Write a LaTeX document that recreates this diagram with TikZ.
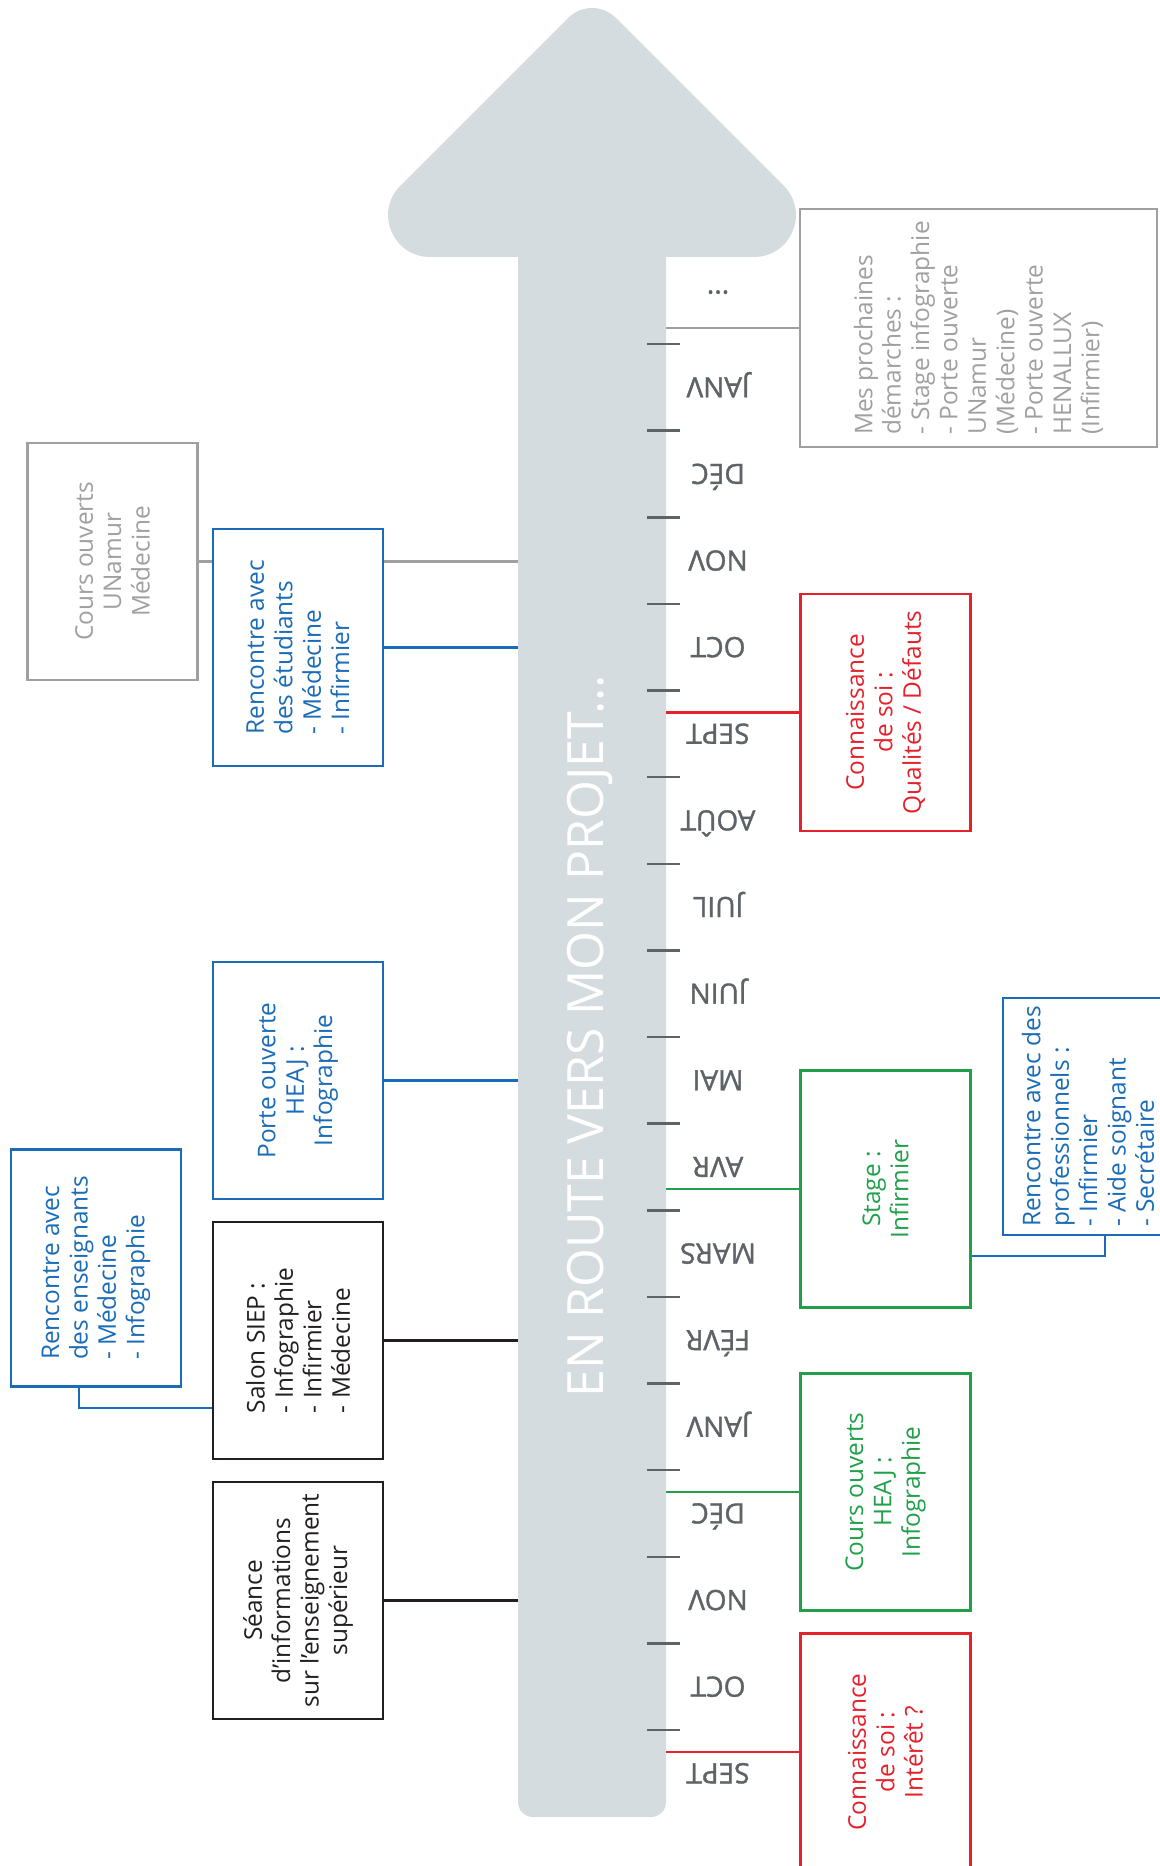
\documentclass[tikz,border=0pt]{standalone}
\usepackage{fontspec}
\setmainfont{Open Sans}
\usepackage{xcolor}
\definecolor{shaft}{HTML}{D5DCE0}
\definecolor{cgray}{HTML}{A0A0A0}
\definecolor{cblue}{HTML}{1A6CB8}
\definecolor{cred}{HTML}{E5222B}
\definecolor{cgreen}{HTML}{21A04A}
\definecolor{cblack}{HTML}{231F20}
\definecolor{cdark}{HTML}{5E6367}
\tikzset{%
  card/.style={draw=#1,text=#1,fill=white,line width=1.1pt,rotate=90,minimum width=118.5pt,minimum height=85pt,inner sep=1pt,font=\fontsize{12.2}{14.2}\selectfont},
  tie/.style={#1,line width=1.3pt},
  month/.style={text=cdark,rotate=180,text height=10pt,text depth=0pt,inner sep=0pt,font=\fontsize{14}{16}\selectfont\addfontfeatures{FakeBold=1.3}},
  notch/.style={cdark,line width=1.25pt},
}

\begin{document}
\begin{tikzpicture}[x=0.5pt,y=-0.5pt]
  \useasboundingbox (0,0) rectangle (1160,1866);

  \fill[shaft,rounded corners=7.5pt] (518,230) rectangle (666,1817);
  \fill[shaft] (430,257) .. controls (392.7,257) and (374,212) .. (400.4,185.6)
    -- (568,18) .. controls (581.3,4.7) and (602.7,4.7) .. (616,18)
    -- (783.6,185.6) .. controls (810,212) and (791.3,257) .. (754,257) -- cycle;
  \node[rotate=90,text=white,font=\fontsize{25}{30}\selectfont] (title) at (590,1036) {EN ROUTE VERS MON PROJET...};

  \coordinate (L) at (518,0);
  \coordinate (R) at (666,0);

  \foreach \i in {0,...,16}
    \draw[notch] (647,{344+86.625*\i}) -- (680,{344+86.625*\i});
  \node[month] (more) at (718,300.7) {...};
  \foreach \m [count=\i] in {JANV,DÉC,NOV,OCT,SEPT,AOÛT,JUIL,JUIN,MAI,AVR,MARS,FÉVR,JANV,DÉC,NOV,OCT,SEPT}
    \node[month] (m\i) at (718,{344+86.625*(\i-0.5)}) {\m};

  % left side
  \node[card=cgray,align=center] (coursU) at (112.5,561.5) {Cours ouverts\\UNamur\\Médecine};
  \draw[tie=cgray] (coursU -| L) -- (coursU);
  \node[card=cblue,align=left] (etudiants) at (298,647.5) {Rencontre avec\\des étudiants\\- Médecine\\- Infirmier};
  \draw[tie=cblue] (etudiants -| L) -- (etudiants);
  \node[card=cblue,align=center] (porte) at (298,1080.5) {Porte ouverte\\HEAJ :\\Infographie};
  \draw[tie=cblue] (porte -| L) -- (porte);
  \node[card=cblack,align=left] (salon) at (298,1340.5) {Salon SIEP :\\- Infographie\\- Infirmier\\- Médecine};
  \draw[tie=cblack] (salon -| L) -- (salon);
  \node[card=cblue,align=left] (ens) at (96,1268) {Rencontre avec\\des enseignants\\- Médecine\\- Infographie};
  \coordinate (e1) at (79,1408);
  \draw[tie=cblue] (ens.west -| e1) |- (salon.north |- e1);
  \node[card=cblack,align=center] (seance) at (298,1600.5) {Séance\\d’informations\\sur l’enseignement\\supérieur};
  \draw[tie=cblack] (seance -| L) -- (seance);

  % right side
  \node[card=cgray,align=left,minimum width=119pt,minimum height=178.5pt] (prochaines) at (978.5,328) {Mes prochaines\\démarches :\\- Stage infographie\\- Porte ouverte\\UNamur\\(Médecine)\\- Porte ouverte\\HENALLUX\\(Infirmier)};
  \draw[tie=cgray] (prochaines -| R) -- (prochaines);
  \node[card=cred,align=center] (qualites) at (885.5,712.5) {Connaissance\\de soi :\\Qualités / Défauts};
  \draw[tie=cred] (qualites -| R) -- (qualites);
  \node[card=cgreen,align=center] (stage) at (885.5,1189) {Stage :\\Infirmier};
  \draw[tie=cgreen] (stage -| R) -- (stage);
  \node[card=cblue,align=left] (pro) at (1088,1116.5) {Rencontre avec des\\professionnels :\\- Infirmier\\- Aide soignant\\- Secrétaire};
  \coordinate (p1) at (1105,1256);
  \draw[tie=cblue] (stage.south |- p1) -| (pro.west -| p1);
  \node[card=cgreen,align=center] (heaj) at (885.5,1492) {Cours ouverts\\HEAJ :\\Infographie};
  \draw[tie=cgreen] (heaj -| R) -- (heaj);
  \node[card=cred,align=center] (interet) at (885.5,1752) {Connaissance\\de soi :\\Intérêt ?};
  \draw[tie=cred] (interet -| R) -- (interet);
\end{tikzpicture}
\end{document}
